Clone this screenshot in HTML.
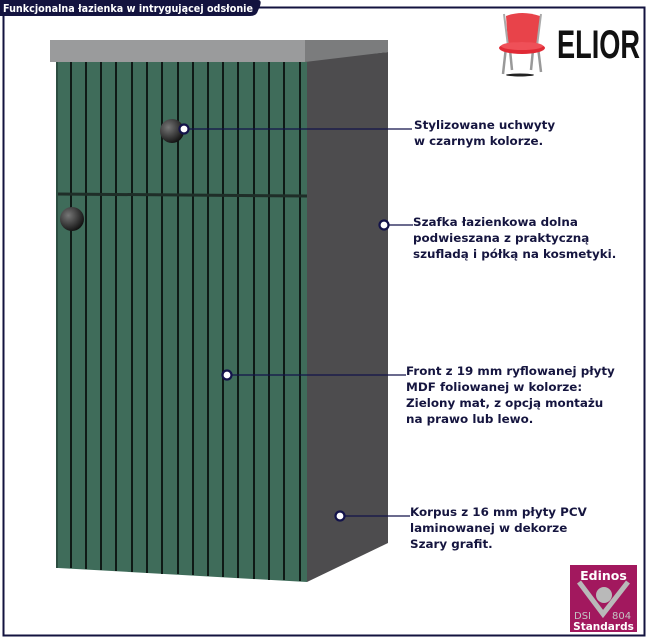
<!DOCTYPE html>
<html><head><meta charset="utf-8"><style>
body{margin:0;width:650px;height:643px;background:#fff;position:relative;overflow:hidden;font-family:"DejaVu Sans","Liberation Sans",sans-serif}
.t{position:absolute;font-weight:bold;font-size:11.9px;line-height:16px;color:#15153f;white-space:nowrap}
</style></head><body>
<svg width="650" height="643" style="position:absolute;left:0;top:0">
<rect x="3.5" y="7.5" width="641" height="628" fill="none" stroke="#13133f" stroke-width="2"/>
<path d="M0 0H258Q262 0 260 6L257 13Q255 16 250 16H0Z" fill="#13133f"/>
<text x="3" y="12" font-family="DejaVu Sans" font-weight="bold" font-size="11" fill="#fff" textLength="250" lengthAdjust="spacingAndGlyphs">Funkcjonalna łazienka w intrygującej odsłonie</text>
<!-- chair -->
<ellipse cx="520" cy="75" rx="14" ry="1.5" fill="#222"/>
<path d="M506 47L503 74M538 47L541 72M510 50L512 70M533 50L531 70" stroke="#999" stroke-width="2.5"/>
<path d="M506 16Q522 10 540 16L538 44H508Z" fill="#e8434a"/>
<path d="M504 14L508 46M541 14L537 46" stroke="#aaa" stroke-width="2"/>
<ellipse cx="522" cy="48" rx="23" ry="6" fill="#e02a35"/>
<ellipse cx="522" cy="46" rx="21" ry="4" fill="#ef5058"/>
<text x="557" y="58" font-family="Liberation Sans Narrow, Liberation Sans" font-weight="bold" font-size="40" fill="#111" textLength="83" lengthAdjust="spacingAndGlyphs">ELIOR</text>
<!-- cabinet -->
<path d="M305 60L388 52V543L307 582Z" fill="#4d4c4e"/>
<path d="M57 62H307V582L58 568Z" fill="#3f6c5a"/>
<g stroke="#0f1a16" stroke-width="2">
<path d="M71 62V568M86 62V569M101 62V570M116 62V571M132 62V572M147 62V573M162 62V574M178 62V574M193 62V575M208 62V576M223 62V577M238 62V578M254 62V579M269 62V580M284 62V580M300 62V581"/>
</g>
<path d="M57 194L307 196" stroke="#1f2e28" stroke-width="3"/>
<path d="M57 62V568" stroke="#2c4d40" stroke-width="2"/>
<path d="M50 40H305V62H50Z" fill="#9a9b9c"/>
<path d="M305 40H388V52L305 62Z" fill="#7b7c7d"/>
<radialGradient id="k" cx="0.35" cy="0.35" r="0.7"><stop offset="0" stop-color="#777"/><stop offset="1" stop-color="#111"/></radialGradient>
<circle cx="172" cy="131" r="12" fill="url(#k)"/>
<circle cx="72" cy="219" r="12" fill="url(#k)"/>
<g stroke="#13134a" stroke-width="1.3">
<path d="M184 129H412M384 225H413M227 375H406M340 516H410"/>
</g>
<g fill="#fff" stroke="#13134a" stroke-width="2.2">
<circle cx="184" cy="129" r="4.5"/><circle cx="384" cy="225" r="4.5"/><circle cx="227" cy="375" r="4.5"/><circle cx="340" cy="516" r="4.5"/>
</g>
<!-- badge -->
<rect x="570" y="565" width="67" height="67" fill="#a2185e"/>
<text x="603.5" y="580" text-anchor="middle" font-family="DejaVu Sans" font-weight="bold" font-size="12.5" fill="#fff">Edinos</text>
<path d="M579 582L603 614L628 582" fill="none" stroke="#b9b9b9" stroke-width="5"/>
<circle cx="604" cy="595" r="8" fill="#b9b9b9"/>
<text x="574" y="619" font-family="DejaVu Sans" font-size="10" fill="#c4c4c4">DSI</text>
<text x="612" y="619" font-family="DejaVu Sans" font-size="10" fill="#c4c4c4">804</text>
<text x="603.5" y="630" text-anchor="middle" font-family="DejaVu Sans" font-weight="bold" font-size="10.5" fill="#fff">Standards</text>
</svg>
<div class="t" style="left:414px;top:117px">Stylizowane uchwyty<br>w czarnym kolorze.</div>
<div class="t" style="left:413px;top:214px">Szafka łazienkowa dolna<br>podwieszana z praktyczną<br>szufladą i półką na kosmetyki.</div>
<div class="t" style="left:406px;top:363px">Front z 19 mm ryflowanej płyty<br>MDF foliowanej w kolorze:<br>Zielony mat, z opcją montażu<br>na prawo lub lewo.</div>
<div class="t" style="left:410px;top:504px">Korpus z 16 mm płyty PCV<br>laminowanej w dekorze<br>Szary grafit.</div>
</body></html>
